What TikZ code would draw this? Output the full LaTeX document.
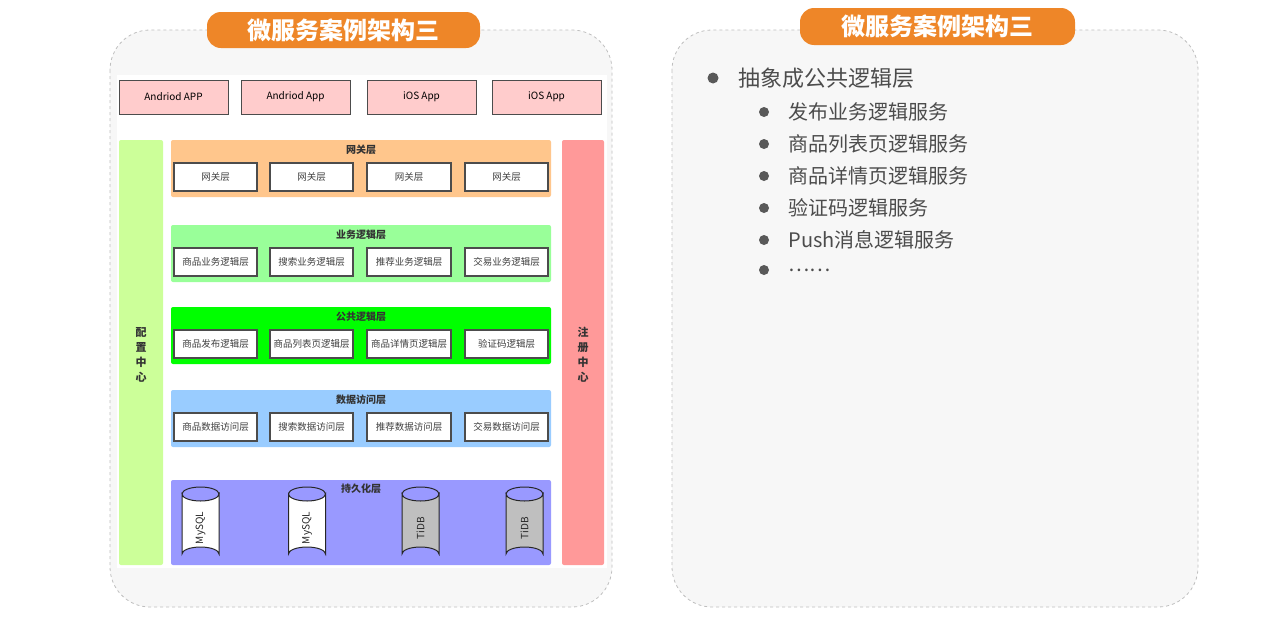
\documentclass[tikz,border=0pt]{standalone}
\usepackage{fontspec}
\setmainfont{Noto Sans CJK SC}
\definecolor{tagc}{RGB}{238,134,40}
\definecolor{dac}{RGB}{153,204,255}
\begin{document}
\begin{tikzpicture}[x=1pt,y=-1pt,
  panel/.style={draw=black!25,dashed,fill=black!3,rounded corners=40pt,line width=0.8pt},
  tag/.style={fill=tagc,rounded corners=14pt,text=white,font=\fontsize{24}{24}\selectfont\bfseries,inner sep=0pt},
  app/.style={draw=black!70,fill=red!20,line width=1pt,minimum width=109pt,minimum height=34pt,font=\fontsize{10}{10}\selectfont,inner sep=0pt},
  bx/.style={draw=black!70,fill=white,line width=1.2pt,minimum height=28pt,font=\fontsize{9.5}{9.5}\selectfont\color{black!75},inner sep=0pt},
  grp/.style={rounded corners=2pt},
  gt/.style={font=\fontsize{10}{10}\selectfont\bfseries\color{black!80}},
  st/.style={font=\fontsize{11}{15}\selectfont\bfseries\color{black!80},align=center,text width=12pt},
  b1/.style={font=\fontsize{22}{22}\selectfont\color{black!70},anchor=west},
  b2/.style={font=\fontsize{20}{20}\selectfont\color{black!70},anchor=west},
  dot/.style={circle,fill=black!65,inner sep=0pt,minimum size=11pt}
]
\useasboundingbox (0,0) rectangle (1271,635);
% left panel
\path[panel] (110,30) rectangle (612,607);
\fill[white] (117,75) rectangle (607,568);
\node[tag,minimum width=273pt,minimum height=36pt] (t1) at (343.5,30) {微服务案例架构三};
% apps
\node[app] (a1) at (173.5,97) {Andriod APP};
\node[app] (a2) at (295.5,97) {Andriod App};
\node[app] (a3) at (421.5,97) {iOS App};
\node[app] (a4) at (546.5,97) {iOS App};
% side bars
\fill[grp,green!50!yellow!40] (119,140) rectangle (163,565);
\node[st] (pz) at (141,355) {配\\置\\中\\心};
\fill[grp,red!40] (562,140) rectangle (604,565);
\node[st] (zc) at (583,355) {注\\册\\中\\心};
% groups
\newcommand\grpline[8]{%
 \fill[grp,#2] (171,#3) rectangle (551,#3+57);
 \node[gt] (#1t) at (361,#3+10) {#4};
 \node[bx,minimum width=83pt] (#1a) at (215.5,#3+37) {#5};
 \node[bx,minimum width=83pt] (#1b) at (311.5,#3+37) {#6};
 \node[bx,minimum width=84pt] (#1c) at (409,#3+37) {#7};
 \node[bx,minimum width=83pt] (#1d) at (506.5,#3+37) {#8};}
\grpline{g}{orange!45}{140}{网关层}{网关层}{网关层}{网关层}{网关层}
\grpline{y}{green!40}{225}{业务逻辑层}{商品业务逻辑层}{搜索业务逻辑层}{推荐业务逻辑层}{交易业务逻辑层}
\grpline{c}{green}{307}{公共逻辑层}{商品发布逻辑层}{商品列表页逻辑层}{商品详情页逻辑层}{验证码逻辑层}
\grpline{s}{dac}{390}{数据访问层}{商品数据访问层}{搜索数据访问层}{推荐数据访问层}{交易数据访问层}
\fill[grp,blue!40] (171,480) rectangle (551,565);
\node[gt] (pt) at (361,489) {持久化层};
\newcommand\cyl[4]{%
 \filldraw[draw=black!85,fill=#3,line width=1pt] (#1-18.5,494) -- (#1-18.5,554) arc[start angle=180,end angle=360,x radius=18.5,y radius=7] -- (#1+18.5,494) arc[start angle=0,end angle=180,x radius=18.5,y radius=7] -- cycle;
 \draw[black!85,line width=1pt] (#1-18.5,494) arc[start angle=180,end angle=360,x radius=18.5,y radius=7];
 \node[rotate=90,font=\fontsize{10}{10}\selectfont\color{black!85}] (#4) at (#1,528) {#2};}
\cyl{200.5}{MySQL}{white}{d1}
\cyl{307}{MySQL}{white}{d2}
\cyl{420.5}{TiDB}{black!25}{d3}
\cyl{524.5}{TiDB}{black!25}{d4}
% right panel
\path[panel] (672,30) rectangle (1198,607);
\node[tag,minimum width=275pt,minimum height=37pt] (t2) at (937.5,26.5) {微服务案例架构三};
\node[dot] (p0) at (713,78) {};
\node[b1] (l0) at (735,78) {抽象成公共逻辑层};
\foreach \yy/\tx [count=\i] in {112/发布业务逻辑服务,144/商品列表页逻辑服务,176/商品详情页逻辑服务,208/验证码逻辑服务,240/Push消息逻辑服务}{
 \node[dot,minimum size=10pt] (q\i) at (764,\yy) {};
 \node[b2] (l\i) at (785,\yy) {\tx};
}
\node[dot,minimum size=10pt] (q6) at (764,270) {};
\node[b2] (l6) at (785,270) {\ldots\ldots};
\end{tikzpicture}
\end{document}
